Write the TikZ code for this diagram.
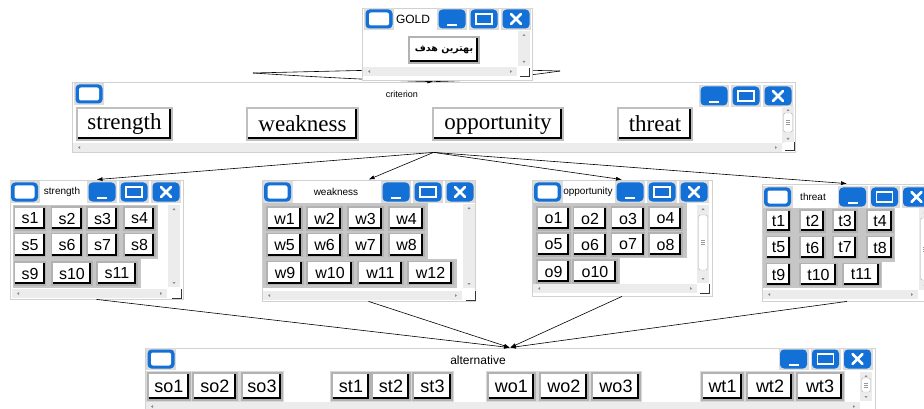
\documentclass[tikz,border=0pt]{standalone}
\usepackage{fontspec}
\setmainfont{Liberation Serif}
\setsansfont{Liberation Sans}
\newfontfamily\arabicfont[Script=Arabic]{DejaVu Sans}
\TeXXeTstate=1
\usetikzlibrary{arrows.meta}

\definecolor{winblue}{RGB}{18,112,214}
\definecolor{scrlgray}{RGB}{236,236,236}
\definecolor{gridgray}{RGB}{198,198,198}

\tikzset{
	win/.style={draw=black!18, fill=white, inner sep=0pt, line width=.8pt},
	key/.style={fill=white, draw=black!30, line width=1.2pt, inner sep=0pt, minimum height=23,
		font=\sffamily\fontsize{16}{16}\selectfont,
		path picture={\draw[draw=black, line width=5.5pt] (path picture bounding box.north east) -- (path picture bounding box.south east) -- (path picture bounding box.south west);}},
	bigkey/.style={key, draw=black!25, line width=2.4pt, minimum height=32, font=\rmfamily\fontsize{23}{23}\selectfont},
	altkey/.style={key, minimum height=27, font=\sffamily\fontsize{18}{18}\selectfont},
	wtitle/.style={inner sep=0pt, font=\sffamily\fontsize{10}{10}\selectfont},
	conn/.style={line width=.6pt, -{Latex[length=6pt,width=4pt]}},
	tbframe/.style={fill=black!14},
	pics/tbicon/.style={code={
		\fill[tbframe] (-15,-11) rectangle (15,11);
		\fill[winblue, rounded corners=4pt] (-13.5,-9.5) rectangle (13.5,9.5);
		\fill[white, rounded corners=2pt] (-10,-6.5) rectangle (10,6.5);
	}},
	pics/tbmin/.style={code={
		\fill[tbframe] (-15,-11) rectangle (15,11);
		\fill[winblue, rounded corners=4pt] (-13.5,-9.5) rectangle (13.5,9.5);
		\fill[white] (-5,5) rectangle (5,7);
	}},
	pics/tbmax/.style={code={
		\fill[tbframe] (-15,-11) rectangle (15,11);
		\fill[winblue, rounded corners=4pt] (-13.5,-9.5) rectangle (13.5,9.5);
		\draw[white, line width=1.6pt] (-8,-5) rectangle (8,5);
	}},
	pics/tbclose/.style={code={
		\fill[tbframe] (-15,-11) rectangle (15,11);
		\fill[winblue, rounded corners=4pt] (-13.5,-9.5) rectangle (13.5,9.5);
		\draw[white, line width=2.6pt, line cap=round] (-5,-5) -- (5,5) (-5,5) -- (5,-5);
	}},
}

% title bar buttons: minimise, maximise, close
\newcommand{\ctrls}[2]{%
	\pic at (#1,#2) {tbmin};
	\pic at (#1+32,#2) {tbmax};
	\pic at (#1+64,#2) {tbclose};
}
% scroll bars and grip
\newcommand{\vscrl}[3]{%
	\fill[scrlgray] (#1,#2) rectangle (#1+12,#3);
	\fill[black!45] (#1+6,#2+3) -- ++(1.5,2) -- ++(-3,0) -- cycle;
	\fill[black!45] (#1+6,#3-3) -- ++(1.5,-2) -- ++(-3,0) -- cycle;
}
\newcommand{\hscrl}[3]{%
	\fill[scrlgray] (#1,#3) rectangle (#2,#3+9);
	\fill[black!45] (#1+5,#3+4.5) -- ++(2,-1.5) -- ++(0,3) -- cycle;
	\fill[black!45] (#2-5,#3+4.5) -- ++(-2,-1.5) -- ++(0,3) -- cycle;
}
\newcommand{\thumb}[3]{%
	\filldraw[fill=white, draw=black!30, rounded corners=1.5pt] (#1+1.5,#2) rectangle (#1+10.5,#3);
	\draw[black!40] (#1+4,{(#2+#3)/2-2}) -- ++(4,0) ++(-4,2) -- ++(4,0) ++(-4,2) -- ++(4,0);
}
\newcommand{\grip}[2]{%
	\fill[white] (#1,#2) rectangle ++(9,9);
	\draw[black!80, line width=1pt] (#1,#2+9) -- ++(9,0) -- ++(0,-9);
}

\begin{document}
\begin{tikzpicture}[x=1pt, y=-1pt]
	\useasboundingbox (0,0) rectangle (924,409);
	\clip (0,0) rectangle (924,409);

	% criterion
	\node[win, minimum width=723, minimum height=70] (crit) at (433.5,117) {};
	\pic at (89,94) {tbicon};
	\node[wtitle, font=\sffamily\fontsize{9}{9}\selectfont] (critT) at (402,94) {criterion};
	\ctrls{714}{96}
	\node[bigkey, minimum width=95] (kS) at (124.5,124) {strength};
	\node[bigkey, minimum width=111] (kW) at (302.5,124) {weakness};
	\node[bigkey, minimum width=130] (kO) at (498,124) {opportunity};
	\node[bigkey, minimum width=74] (kT) at (655,124) {threat};
	\vscrl{782}{106}{143}
	\thumb{782}{113}{132}
	\hscrl{73}{782}{143}
	\grip{785}{142}

	% link goal -> criterion
	\coordinate (lensL) at (253,73);
	\coordinate (lensR) at (560,71);
	\draw[line width=.6pt] (lensL) -- (380,70);
	\draw[line width=.6pt] (lensR) -- (520,70);
	\draw[conn] (lensL) .. controls (330,78) and (400,81) .. (crit.north);
	\draw[line width=.6pt] (lensR) .. controls (520,77) and (470,81) .. (crit.north);

	% GOLD
	\node[win, minimum width=170, minimum height=72] (gold) at (447,44) {};
	\pic at (379,19) {tbicon};
	\node[wtitle, font=\sffamily\fontsize{12}{12}\selectfont] (goldT) at (413,19) {GOLD};
	\ctrls{452}{19}
	\node[key, minimum width=70, minimum height=26, font=\arabicfont\bfseries\fontsize{9.5}{10}\selectfont] (goal) at (444,50) {\beginR بهترین هدف\endR};
	\vscrl{518}{31}{66}
	\hscrl{363}{517}{67}
	\grip{520}{68}

	% strength
	\node[win, minimum width=173, minimum height=119] (str) at (96.5,239.5) {};
	\pic at (24.5,192) {tbicon};
	\node[wtitle] (strT) at (62,192) {strength};
	\ctrls{102}{192}
	\fill[gridgray] (13,205) rectangle (158,259);
	\fill[gridgray] (13,259) rectangle (141,288);
	\node[key, minimum width=31] (s1) at (30,218.5) {s1};
	\node[key, minimum width=31] (s2) at (67,218.5) {s2};
	\node[key, minimum width=31] (s3) at (102.5,218.5) {s3};
	\node[key, minimum width=31] (s4) at (139.5,218.5) {s4};
	\node[key, minimum width=31] (s5) at (30,245) {s5};
	\node[key, minimum width=31] (s6) at (67,245) {s6};
	\node[key, minimum width=31] (s7) at (102.5,245) {s7};
	\node[key, minimum width=31] (s8) at (139.5,245) {s8};
	\node[key, minimum width=31] (s9) at (30,273.5) {s9};
	\node[key, minimum width=40] (s10) at (72,273.5) {s10};
	\node[key, minimum width=40] (s11) at (117,273.5) {s11};
	\vscrl{168}{205}{287}
	\hscrl{12}{167}{289}
	\grip{172}{289}

	% weakness
	\node[win, minimum width=213, minimum height=121] (weak) at (368.5,240.5) {};
	\pic at (277.5,192) {tbicon};
	\node[wtitle] (weakT) at (336,192) {weakness};
	\ctrls{396}{192}
	\fill[gridgray] (263,203) rectangle (428,259);
	\fill[gridgray] (263,259) rectangle (457,288);
	\node[key, minimum width=35] (w1) at (284.5,218.5) {w1};
	\node[key, minimum width=35] (w2) at (324.5,218.5) {w2};
	\node[key, minimum width=35] (w3) at (365.5,218.5) {w3};
	\node[key, minimum width=35] (w4) at (406.5,218.5) {w4};
	\node[key, minimum width=35] (w5) at (284.5,245) {w5};
	\node[key, minimum width=35] (w6) at (324.5,245) {w6};
	\node[key, minimum width=35] (w7) at (365.5,245) {w7};
	\node[key, minimum width=35] (w8) at (406.5,245) {w8};
	\node[key, minimum width=36] (w9) at (285,273) {w9};
	\node[key, minimum width=46] (w10) at (330,273) {w10};
	\node[key, minimum width=45] (w11) at (380.5,273) {w11};
	\node[key, minimum width=45] (w12) at (430.5,273) {w12};
	\vscrl{463}{204}{288}
	\hscrl{263}{462}{291}
	\grip{466}{291}

	% opportunity
	\node[win, minimum width=180, minimum height=116] (opp) at (622,238) {};
	\pic at (547.5,192) {tbicon};
	\node[wtitle] (oppT) at (588,192) {opportunity};
	\ctrls{630}{192}
	\fill[gridgray] (533,203) rectangle (687,258);
	\fill[gridgray] (533,258) rectangle (620,286);
	\node[key, minimum width=33] (o1) at (553.5,218.5) {o1};
	\node[key, minimum width=33] (o2) at (590,218.5) {o2};
	\node[key, minimum width=33] (o3) at (628,218.5) {o3};
	\node[key, minimum width=33] (o4) at (665.5,218.5) {o4};
	\node[key, minimum width=33] (o5) at (553.5,244.5) {o5};
	\node[key, minimum width=33] (o6) at (590,244.5) {o6};
	\node[key, minimum width=33] (o7) at (628,244.5) {o7};
	\node[key, minimum width=33] (o8) at (665.5,244.5) {o8};
	\node[key, minimum width=33] (o9) at (553.5,271.5) {o9};
	\node[key, minimum width=44] (o10) at (595,271.5) {o10};
	\vscrl{697}{205}{283}
	\thumb{697}{215}{270}
	\hscrl{533}{697}{284}
	\grip{700}{284}

	% threat
	\node[win, minimum width=170, minimum height=117] (thr) at (847,242.5) {};
	\pic at (777.5,197) {tbicon};
	\node[wtitle] (thrT) at (813,197) {threat};
	\ctrls{852.5}{197}
	\fill[gridgray] (763,208) rectangle (895,262);
	\fill[gridgray] (763,262) rectangle (882,288);
	\node[key, minimum width=24, minimum height=22] (t1) at (778.5,221) {t1};
	\node[key, minimum width=25, minimum height=22] (t2) at (812.5,221) {t2};
	\node[key, minimum width=24, minimum height=22] (t3) at (845,221) {t3};
	\node[key, minimum width=26, minimum height=22] (t4) at (880,221) {t4};
	\node[key, minimum width=24, minimum height=22] (t5) at (778.5,247.5) {t5};
	\node[key, minimum width=25, minimum height=22] (t6) at (812.5,247.5) {t6};
	\node[key, minimum width=24, minimum height=22] (t7) at (845,247.5) {t7};
	\node[key, minimum width=26, minimum height=22] (t8) at (880,247.5) {t8};
	\node[key, minimum width=24, minimum height=22] (t9) at (778.5,274.5) {t9};
	\node[key, minimum width=37, minimum height=22] (t10) at (818.5,274.5) {t10};
	\node[key, minimum width=37, minimum height=22] (t11) at (861.5,274.5) {t11};
	\vscrl{919}{208}{290}
	\thumb{919}{218}{280}
	\hscrl{763}{918}{290}

	% alternative
	\node[win, minimum width=730, minimum height=68] (alt) at (510,382) {};
	\pic at (161,359) {tbicon};
	\node[wtitle, font=\sffamily\fontsize{12}{12}\selectfont] (altT) at (478,360) {alternative};
	\ctrls{793.5}{359}
	\fill[black!15] (146,371) rectangle (284,402);
	\fill[black!15] (330,371) rectangle (454,402);
	\fill[black!15] (486,371) rectangle (642,402);
	\fill[black!15] (700,371) rectangle (845,402);
	\node[altkey, minimum width=42] (so1) at (169,386.5) {so1};
	\node[altkey, minimum width=44] (so2) at (215,386.5) {so2};
	\node[altkey, minimum width=40] (so3) at (262,386.5) {so3};
	\node[altkey, minimum width=38] (st1) at (351,386.5) {st1};
	\node[altkey, minimum width=38] (st2) at (391,386.5) {st2};
	\node[altkey, minimum width=39] (st3) at (432.5,386.5) {st3};
	\node[altkey, minimum width=47] (wo1) at (511.5,386.5) {wo1};
	\node[altkey, minimum width=48] (wo2) at (564,386.5) {wo2};
	\node[altkey, minimum width=48] (wo3) at (616,386.5) {wo3};
	\node[altkey, minimum width=41] (wt1) at (722.5,386.5) {wt1};
	\node[altkey, minimum width=46] (wt2) at (770,386.5) {wt2};
	\node[altkey, minimum width=46] (wt3) at (820,386.5) {wt3};
	\vscrl{860}{372}{401}
	\thumb{860}{378}{392}
	\hscrl{146}{860}{402}

	% links
	\draw[conn] (crit.south) -- (str.north);
	\draw[conn] (crit.south) -- (weak.north);
	\draw[conn] (crit.south) -- (opp.north);
	\draw[conn] (crit.south) -- (thr.north);
	\draw[conn] (str.south) -- (alt.north);
	\draw[conn] (weak.south) -- (alt.north);
	\draw[conn] (opp.south) -- (alt.north);
	\draw[conn] (thr.south) -- (alt.north);
\end{tikzpicture}
\end{document}
